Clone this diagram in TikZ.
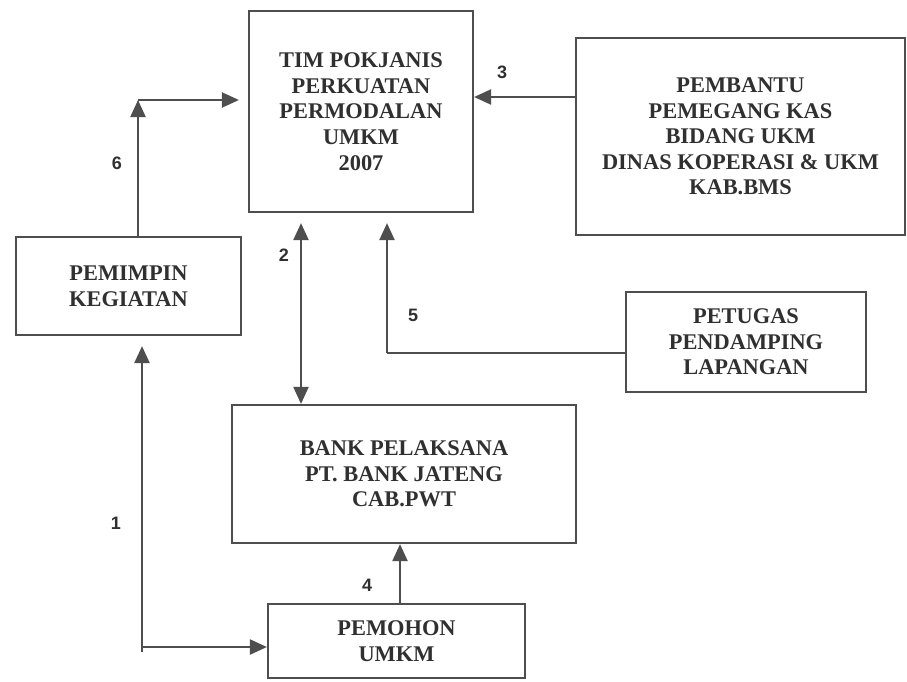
\documentclass[tikz,border=0pt]{standalone}
\usepackage{fontspec}
\setmainfont{Liberation Serif}
\newfontfamily\numfont{Liberation Sans}
\usetikzlibrary{arrows.meta,calc}
\definecolor{ln}{HTML}{4E4E4E}
\definecolor{tx}{HTML}{303030}
\tikzset{
  boxnode/.style={draw=ln, line width=2.2pt, rectangle, inner sep=0pt, align=center,
    text=tx, font=\fontsize{22.4}{25.6}\selectfont\bfseries},
  arr/.style={draw=ln, line width=2.2pt, -{Triangle[length=17pt,width=15pt]}},
  dbl/.style={draw=ln, line width=2.2pt, {Triangle[length=17pt,width=15pt]}-{Triangle[length=17pt,width=15pt]}},
  plain/.style={draw=ln, line width=2.2pt},
  num/.style={text=tx, font=\numfont\fontsize{18}{20}\selectfont\bfseries, inner sep=0pt}
}
\begin{document}
\begin{tikzpicture}[x=1pt,y=-1pt]
\useasboundingbox[fill=white] (0,0) rectangle (907,681);

\node[boxnode, minimum width=224pt, minimum height=201pt] (tim) at (361,111.5)
  {TIM POKJANIS\\PERKUATAN\\PERMODALAN\\UMKM\\2007};
\node[boxnode, minimum width=329pt, minimum height=197pt] (pemb) at (740.5,136.5)
  {PEMBANTU\\PEMEGANG KAS\\BIDANG UKM\\DINAS KOPERASI \& UKM\\KAB.BMS};
\node[boxnode, minimum width=225pt, minimum height=98pt] (pem) at (128.5,286)
  {PEMIMPIN\\KEGIATAN};
\node[boxnode, minimum width=240pt, minimum height=100pt] (pet) at (746,342)
  {PETUGAS\\PENDAMPING\\LAPANGAN};
\node[boxnode, minimum width=344pt, minimum height=138pt] (bank) at (404,474)
  {BANK PELAKSANA\\PT. BANK JATENG\\CAB.PWT};
\node[boxnode, minimum width=257pt, minimum height=74pt] (pmh) at (396.5,641)
  {PEMOHON\\UMKM};

% connector helper coordinates
\coordinate (x6) at (138,100);
\coordinate (x2) at (301,0);
\coordinate (x5) at (387,353);
\coordinate (x1) at (142,647);
\coordinate (x1b) at (142,652);
\coordinate (x4) at (400,0);
\coordinate (y3) at (0,97);

% 6
\draw[arr] (pem.north -| x6) -- (x6);
\draw[arr] (x6) -- ($(x6 -| tim.west)+(-9,0)$);
% 3
\draw[arr] (pemb.west |- y3) -- (tim.east |- y3);
% 2
\draw[dbl] ($(x2 |- tim.south)+(0,10)$) -- (x2 |- bank.north);
% 5
\draw[plain] (pet.west |- x5) -- (x5);
\draw[arr] (x5) -- ($(x5 |- tim.south)+(0,10)$);
% 1
\draw[arr] (x1b) -- ($(x1 |- pem.south)+(0,10)$);
\draw[arr] (x1) -- (x1 -| pmh.west);
% 4
\draw[arr] (x4 |- pmh.north) -- (x4 |- bank.south);

% labels
\node[num] (n3) at (502,72) {3};
\node[num] (n6) at (117,163) {6};
\node[num] (n2) at (284,255) {2};
\node[num] (n5) at (413,315) {5};
\node[num] (n1) at (116,523) {1};
\node[num] (n4) at (367,585) {4};
\end{tikzpicture}
\end{document}
